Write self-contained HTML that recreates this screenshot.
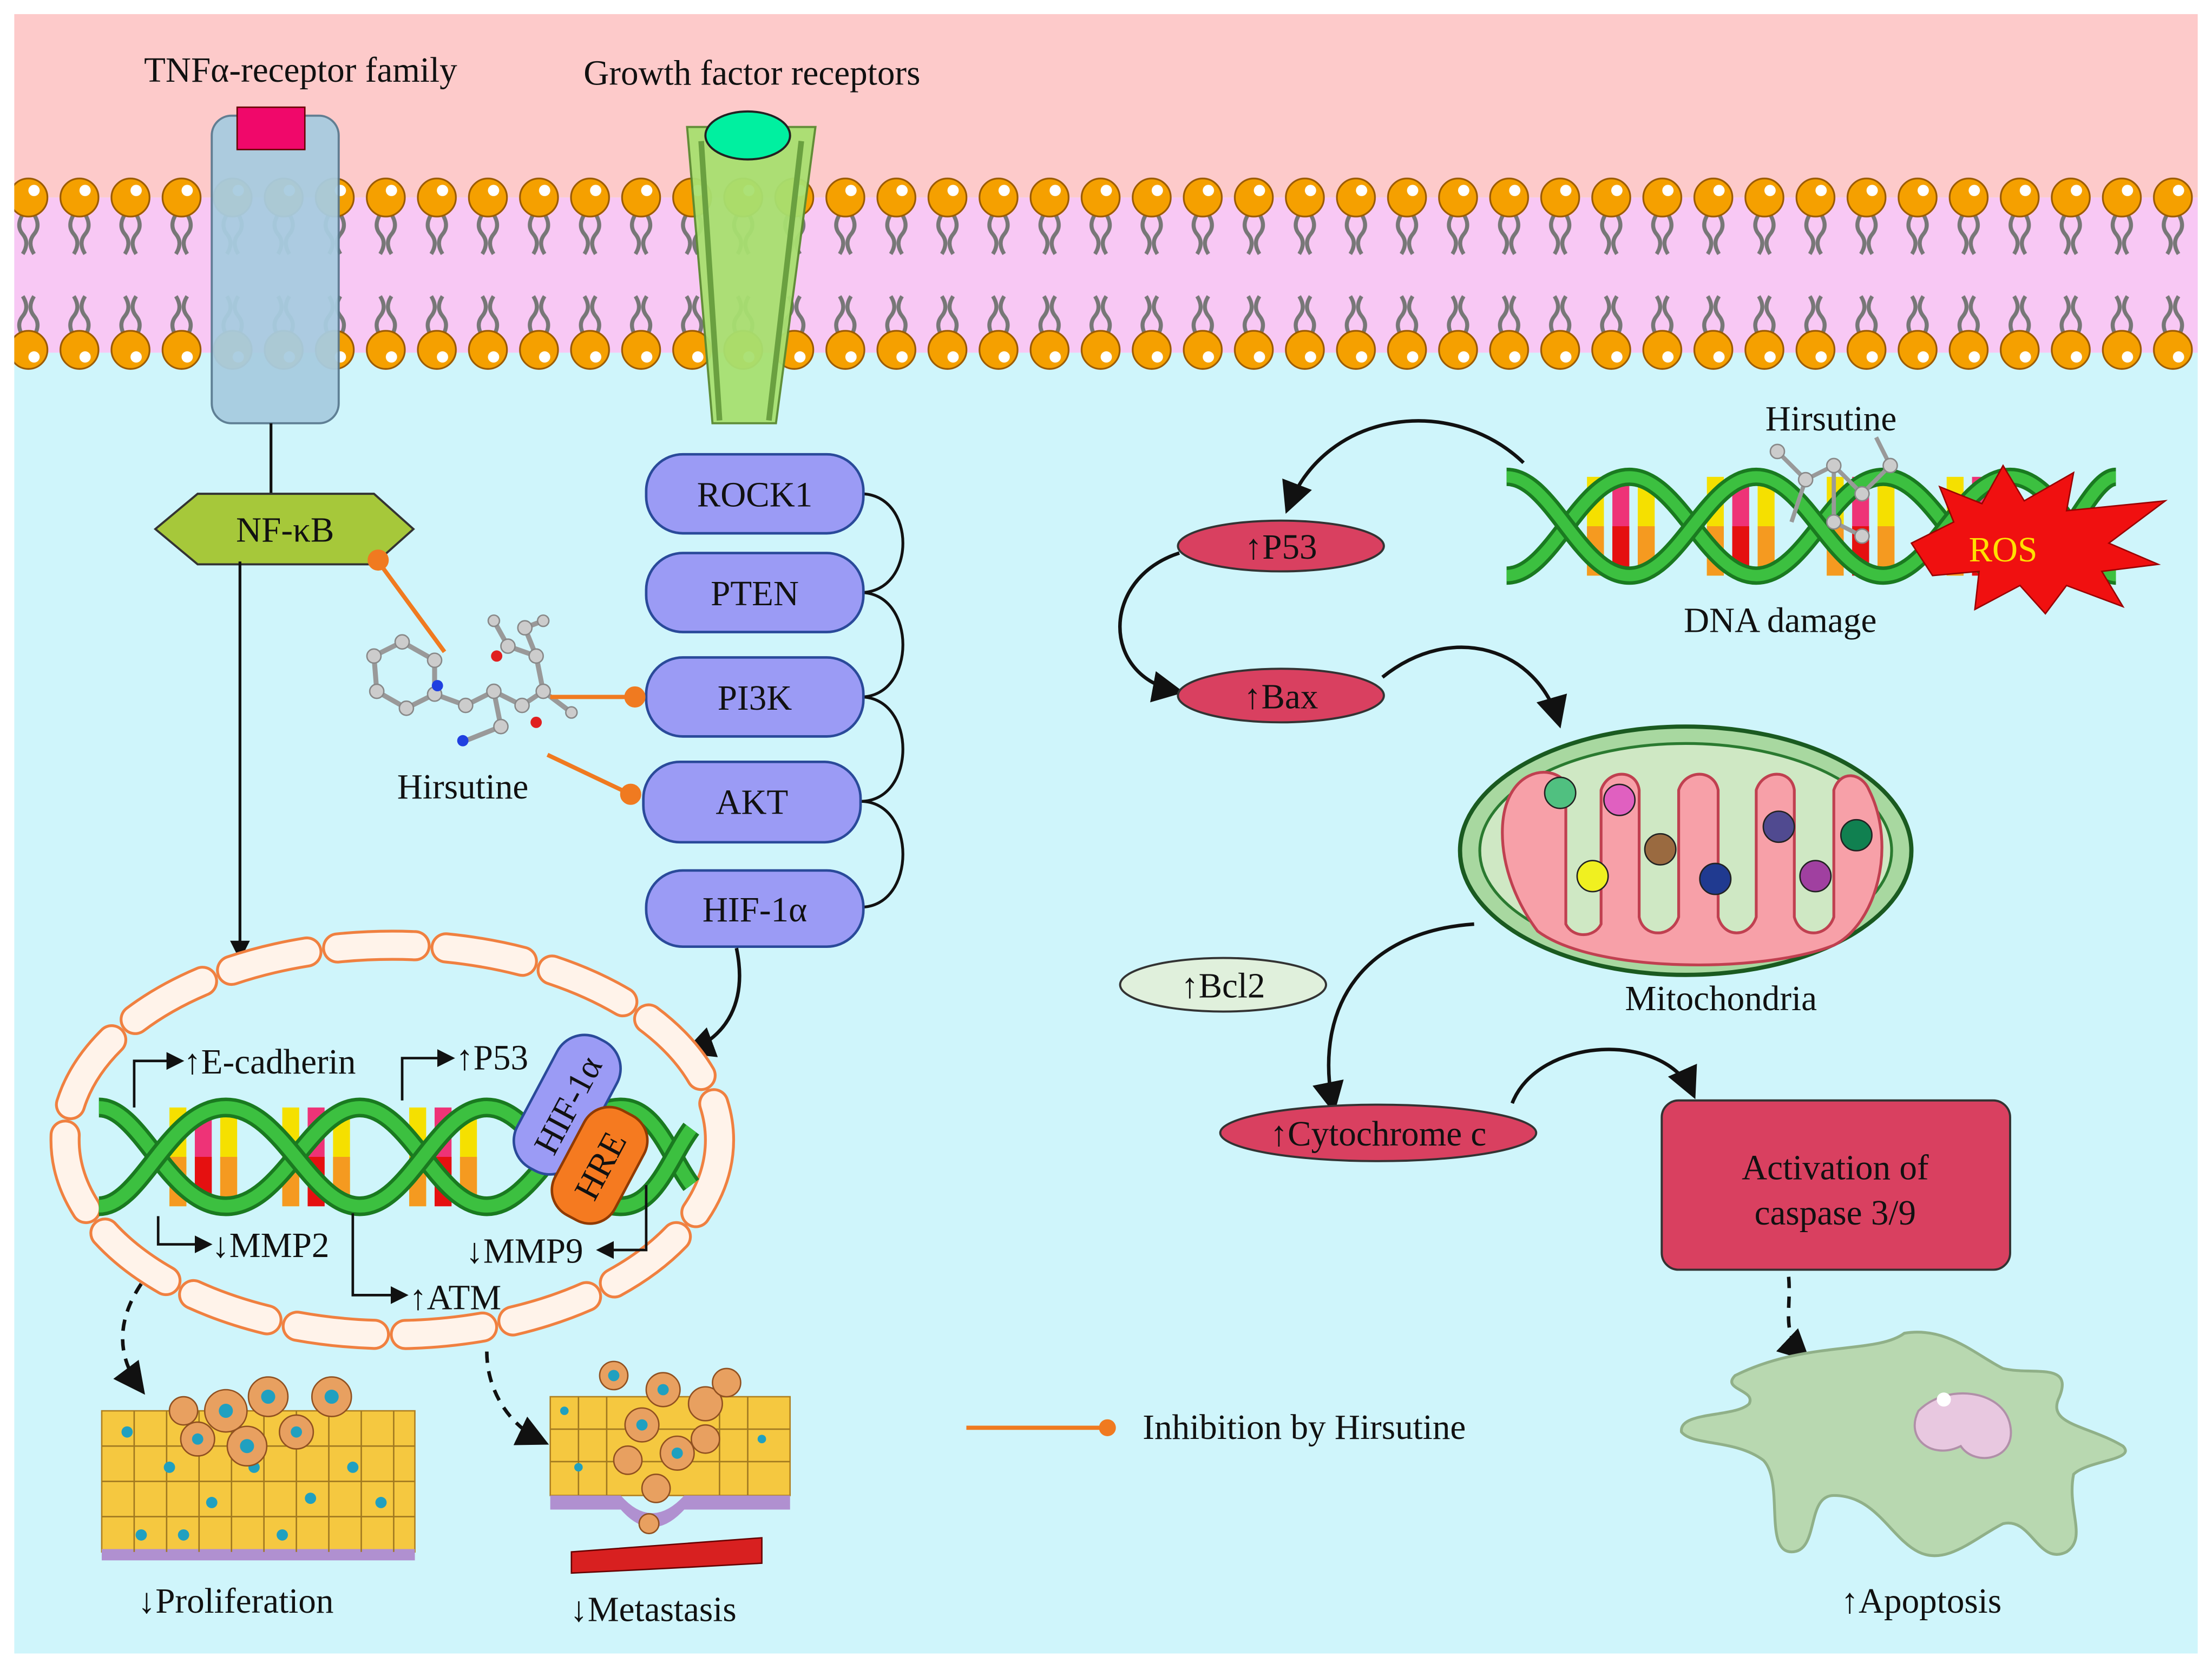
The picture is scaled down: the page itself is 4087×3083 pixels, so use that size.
<!DOCTYPE html>
<html><head><meta charset="utf-8"><style>
html,body{margin:0;padding:0;background:#fff}
svg{display:block}
text{font-family:"Liberation Serif",serif;fill:#111}
</style></head><body>
<svg width="4087" height="3083" viewBox="0 0 1568 1183" xmlns="http://www.w3.org/2000/svg">
<defs>
<pattern id="mem" patternUnits="userSpaceOnUse" x="2" y="125" width="36.2" height="140">
 <path d="M14 27 q-5 8 0 14 q5 6 0 14 M22 27 q5 8 0 14 q-5 6 0 14" stroke="#777" stroke-width="2.8" fill="none"/>
 <path d="M14 113 q-5 -8 0 -14 q5 -6 0 -14 M22 113 q5 -8 0 -14 q-5 -6 0 -14" stroke="#777" stroke-width="2.8" fill="none"/>
 <circle cx="18" cy="15" r="13.5" fill="#f5a000" stroke="#9a5a00" stroke-width="1.2"/>
 <circle cx="22" cy="10" r="4" fill="#fff"/>
 <circle cx="18" cy="123" r="13.5" fill="#f5a000" stroke="#9a5a00" stroke-width="1.2"/>
 <circle cx="22" cy="128" r="4" fill="#fff"/>
</pattern>
<marker id="ar" viewBox="0 0 10 10" refX="8" refY="5" markerWidth="7" markerHeight="7" orient="auto"><path d="M0 0L10 5L0 10z" fill="#111"/></marker>
<marker id="ars" viewBox="0 0 10 10" refX="8" refY="5" markerWidth="9" markerHeight="9" orient="auto"><path d="M0 0L10 5L0 10z" fill="#111"/></marker>
<g id="bars">
 <rect x="0" y="0" width="12" height="70" fill="#f5e000"/><rect x="0" y="35" width="12" height="35" fill="#f59a20"/>
 <rect x="18" y="0" width="12" height="70" fill="#ee3377"/><rect x="18" y="35" width="12" height="35" fill="#e51010"/>
 <rect x="36" y="0" width="12" height="70" fill="#f5e000"/><rect x="36" y="35" width="12" height="35" fill="#f59a20"/>
</g>
</defs>
<rect x="10" y="10" width="1548" height="130" fill="#fdcaca"/>
<rect x="10" y="140" width="1548" height="1032" fill="#cff5fb"/>
<rect x="10" y="140" width="1548" height="110" fill="#f8c8f4"/>
<rect x="10" y="125" width="1548" height="140" fill="url(#mem)"/>

<rect x="150" y="82" width="90" height="218" rx="14" fill="#a8cce0" stroke="#5a7a90" stroke-width="1.5" opacity="0.95"/>
<rect x="168" y="76" width="48" height="30" fill="#f0086a" stroke="#600" stroke-width="1"/>
<path d="M487 90 L578 90 L550 300 L505 300 Z" fill="#a8e070" stroke="#5a8a30" stroke-width="1.5" opacity="0.95"/>
<path d="M497 100 L510 298 M568 100 L545 298" stroke="#6aa040" stroke-width="4"/>
<ellipse cx="530" cy="96" rx="30" ry="17" fill="#00f0a0" stroke="#222" stroke-width="1.5"/>
<text x="213" y="58" font-size="25" text-anchor="middle">TNFα-receptor family</text>
<text x="533" y="60" font-size="25" text-anchor="middle">Growth factor receptors</text>

<line x1="192" y1="300" x2="192" y2="352" stroke="#111" stroke-width="2"/>
<path d="M110 375 L140 350 L265 350 L293 375 L265 400 L140 400 Z" fill="#a6c83a" stroke="#333" stroke-width="1.5"/>
<text x="202" y="384" font-size="25" text-anchor="middle">NF-κB</text>
<line x1="170" y1="398" x2="170" y2="678" stroke="#111" stroke-width="2" marker-end="url(#ar)"/>

<g stroke="#111" stroke-width="2" fill="none">
<path d="M610 350 C650 350 650 420 610 420"/>
<path d="M610 420 C650 420 650 494 610 494"/>
<path d="M610 494 C650 494 650 568 610 568"/>
<path d="M610 568 C650 568 650 643 610 643"/>
</g>
<g fill="#9b9bf5" stroke="#2a4a9a" stroke-width="1.8">
<rect x="458" y="322" width="154" height="56" rx="26"/>
<rect x="458" y="392" width="154" height="56" rx="26"/>
<rect x="458" y="466" width="154" height="56" rx="26"/>
<rect x="456" y="540" width="154" height="57" rx="26"/>
<rect x="458" y="617" width="154" height="54" rx="26"/>
</g>
<g font-size="25" text-anchor="middle">
<text x="535" y="359">ROCK1</text><text x="535" y="429">PTEN</text><text x="535" y="503">PI3K</text><text x="533" y="577">AKT</text><text x="535" y="653">HIF-1α</text>
</g>
<path d="M522 672 C530 710 515 735 488 745" stroke="#111" stroke-width="2.5" fill="none" marker-end="url(#ars)"/>

<g stroke="#999" stroke-width="3.5" fill="none">
<path d="M265 465 L285 455 L308 468 L308 492 L288 502 L267 490 Z M308 492 L330 500 L350 490 L370 500 L385 490 L380 465 L360 458 M350 490 L355 515 L330 525 M380 465 L372 445 L385 440 M385 490 L405 505 M360 458 L350 440"/>
</g>
<g fill="#ccc" stroke="#888">
<circle cx="265" cy="465" r="5"/><circle cx="285" cy="455" r="5"/><circle cx="308" cy="468" r="5"/><circle cx="308" cy="492" r="5"/><circle cx="288" cy="502" r="5"/><circle cx="267" cy="490" r="5"/><circle cx="330" cy="500" r="5"/><circle cx="350" cy="490" r="5"/><circle cx="370" cy="500" r="5"/><circle cx="385" cy="490" r="5"/><circle cx="380" cy="465" r="5"/><circle cx="360" cy="458" r="5"/><circle cx="372" cy="445" r="5"/><circle cx="355" cy="515" r="5"/><circle cx="350" cy="440" r="4"/><circle cx="385" cy="440" r="4"/><circle cx="405" cy="505" r="4"/>
</g>
<circle cx="310" cy="486" r="4" fill="#2040e0"/><circle cx="328" cy="525" r="4" fill="#2040e0"/>
<circle cx="352" cy="465" r="4" fill="#e02020"/><circle cx="380" cy="512" r="4" fill="#e02020"/>
<text x="328" y="566" font-size="25" text-anchor="middle">Hirsutine</text>
<g stroke="#f07a20" stroke-width="3" fill="#f07a20">
<line x1="315" y1="462" x2="268" y2="398"/><circle cx="268" cy="397" r="6"/>
<line x1="390" y1="494" x2="450" y2="494"/><circle cx="450" cy="494" r="6"/>
<line x1="388" y1="535" x2="447" y2="563"/><circle cx="447" cy="563" r="6"/>
</g>

<ellipse cx="278" cy="808" rx="232" ry="138" fill="none" stroke="#f08040" stroke-width="22" stroke-dasharray="55 22" stroke-linecap="round"/>
<ellipse cx="278" cy="808" rx="232" ry="138" fill="none" stroke="#fff3ea" stroke-width="18" stroke-dasharray="55 22" stroke-linecap="round"/>

<g>
<use href="#bars" x="120" y="785"/><use href="#bars" x="200" y="785"/><use href="#bars" x="290" y="785"/>
<path d="M70 785 C100 785 120 855 160 855 C200 855 220 785 255 785 C290 785 310 855 345 855 C380 855 400 785 440 785 C465 785 475 820 490 840" stroke="#1a7a20" stroke-width="14" fill="none"/>
<path d="M70 785 C100 785 120 855 160 855 C200 855 220 785 255 785 C290 785 310 855 345 855 C380 855 400 785 440 785 C465 785 475 820 490 840" stroke="#3cc040" stroke-width="9" fill="none"/>
<path d="M70 855 C100 855 120 785 160 785 C200 785 220 855 255 855 C290 855 310 785 345 785 C380 785 400 855 440 855 C465 855 475 820 490 800" stroke="#1a7a20" stroke-width="14" fill="none"/>
<path d="M70 855 C100 855 120 785 160 785 C200 785 220 855 255 855 C290 855 310 785 345 785 C380 785 400 855 440 855 C465 855 475 820 490 800" stroke="#3cc040" stroke-width="9" fill="none"/>
</g>
<g stroke="#111" stroke-width="1.8" fill="none">
<path d="M95 785 L95 752 L128 752" marker-end="url(#ar)"/>
<path d="M285 780 L285 750 L320 750" marker-end="url(#ar)"/>
<path d="M112 862 L112 882 L148 882" marker-end="url(#ar)"/>
<path d="M250 860 L250 918 L287 918" marker-end="url(#ar)"/>
<path d="M458 840 L458 886 L425 886" marker-end="url(#ar)"/>
</g>
<g font-size="25">
<text x="130" y="761">↑E-cadherin</text><text x="323" y="758">↑P53</text>
<text x="150" y="891">↓MMP2</text><text x="330" y="895">↓MMP9</text><text x="290" y="928">↑ATM</text>
</g>
<g transform="translate(402 783) rotate(-62)"><rect x="-52" y="-24" width="104" height="48" rx="22" fill="#9b9bf5" stroke="#2a4a9a" stroke-width="1.8"/><text x="0" y="9" font-size="25" text-anchor="middle">HIF-1α</text></g>
<g transform="translate(425 826) rotate(-62)"><rect x="-42" y="-24" width="84" height="48" rx="20" fill="#f57a20" stroke="#903a00" stroke-width="1.8"/><text x="0" y="9" font-size="25" text-anchor="middle">HRE</text></g>

<path d="M100 910 C80 940 85 965 100 985" stroke="#111" stroke-width="2.5" stroke-dasharray="8 6" fill="none" marker-end="url(#ars)"/>
<path d="M345 958 C345 985 360 1010 385 1022" stroke="#111" stroke-width="2.5" stroke-dasharray="8 6" fill="none" marker-end="url(#ars)"/>

<g>
<rect x="72" y="1000" width="222" height="100" fill="#f5c840" stroke="#b08020"/>
<rect x="72" y="1098" width="222" height="8" fill="#b090d0"/>
<g stroke="#a07820" stroke-width="1">
<path d="M72 1025H294M72 1050H294M72 1075H294M95 1000V1100M118 1000V1100M141 1000V1100M164 1000V1100M187 1000V1100M210 1000V1100M233 1000V1100M256 1000V1100M279 1000V1100"/>
</g>
<g fill="#20a0c0"><circle cx="90" cy="1015" r="4"/><circle cx="120" cy="1040" r="4"/><circle cx="150" cy="1065" r="4"/><circle cx="200" cy="1088" r="4"/><circle cx="250" cy="1040" r="4"/><circle cx="270" cy="1065" r="4"/><circle cx="100" cy="1088" r="4"/><circle cx="220" cy="1062" r="4"/><circle cx="130" cy="1088" r="4"/><circle cx="180" cy="1040" r="4"/></g>
<g fill="#e8a060" stroke="#905020"><circle cx="160" cy="1000" r="15"/><circle cx="190" cy="990" r="14"/><circle cx="235" cy="990" r="14"/><circle cx="175" cy="1025" r="14"/><circle cx="140" cy="1020" r="12"/><circle cx="210" cy="1015" r="12"/><circle cx="130" cy="1000" r="10"/></g>
<g fill="#20a0c0"><circle cx="160" cy="1000" r="5"/><circle cx="190" cy="990" r="5"/><circle cx="235" cy="990" r="5"/><circle cx="175" cy="1025" r="5"/><circle cx="140" cy="1020" r="4"/><circle cx="210" cy="1015" r="4"/></g>
</g>
<g>
<rect x="390" y="990" width="170" height="70" fill="#f5c840" stroke="#b08020"/>
<g stroke="#a07820" stroke-width="1"><path d="M390 1013H560M390 1036H560M410 990V1060M430 990V1060M510 990V1060M530 990V1060"/></g>
<path d="M390 1060 L440 1060 Q462 1085 485 1060 L560 1060 L560 1070 L485 1070 Q462 1095 440 1070 L390 1070Z" fill="#b090d0"/>
<path d="M405 1100 Q470 1095 540 1090 L540 1108 Q470 1112 405 1115 Z" fill="#d82020" stroke="#600"/>
<g fill="#e8a060" stroke="#905020"><circle cx="435" cy="975" r="10"/><circle cx="470" cy="985" r="12"/><circle cx="500" cy="995" r="12"/><circle cx="455" cy="1010" r="12"/><circle cx="480" cy="1030" r="12"/><circle cx="465" cy="1055" r="10"/><circle cx="515" cy="980" r="10"/><circle cx="460" cy="1080" r="7"/><circle cx="445" cy="1035" r="10"/><circle cx="500" cy="1020" r="10"/></g>
<g fill="#20a0c0"><circle cx="435" cy="975" r="4"/><circle cx="470" cy="985" r="4"/><circle cx="455" cy="1010" r="4"/><circle cx="480" cy="1030" r="4"/><circle cx="410" cy="1040" r="3"/><circle cx="540" cy="1020" r="3"/><circle cx="400" cy="1000" r="3"/></g>
</g>
<text x="167" y="1143" font-size="25" text-anchor="middle">↓Proliferation</text>
<text x="463" y="1149" font-size="25" text-anchor="middle">↓Metastasis</text>

<line x1="685" y1="1012" x2="785" y2="1012" stroke="#f07a20" stroke-width="3"/>
<circle cx="785" cy="1012" r="6" fill="#f07a20"/>
<text x="810" y="1020" font-size="25">Inhibition by Hirsutine</text>

<g>
<use href="#bars" x="1125" y="338"/><use href="#bars" x="1210" y="338"/><use href="#bars" x="1295" y="338"/><use href="#bars" x="1380" y="338"/>
<path d="M1068 408 C1100 408 1120 338 1155 338 C1190 338 1210 408 1245 408 C1280 408 1300 338 1335 338 C1370 338 1390 408 1425 408 C1460 408 1480 338 1500 338" stroke="#1a7a20" stroke-width="13" fill="none"/>
<path d="M1068 408 C1100 408 1120 338 1155 338 C1190 338 1210 408 1245 408 C1280 408 1300 338 1335 338 C1370 338 1390 408 1425 408 C1460 408 1480 338 1500 338" stroke="#3cc040" stroke-width="8" fill="none"/>
<path d="M1068 338 C1100 338 1120 408 1155 408 C1190 408 1210 338 1245 338 C1280 338 1300 408 1335 408 C1370 408 1390 338 1425 338 C1460 338 1480 408 1500 408" stroke="#1a7a20" stroke-width="13" fill="none"/>
<path d="M1068 338 C1100 338 1120 408 1155 408 C1190 408 1210 338 1245 338 C1280 338 1300 408 1335 408 C1370 408 1390 338 1425 338 C1460 338 1480 408 1500 408" stroke="#3cc040" stroke-width="8" fill="none"/>
</g>
<g stroke="#999" stroke-width="3" fill="none"><path d="M1260 320 L1280 340 L1300 330 L1320 350 L1340 330 L1330 310 M1300 330 L1300 370 L1320 380 M1280 340 L1270 370"/></g>
<g fill="#ccc" stroke="#888"><circle cx="1260" cy="320" r="5"/><circle cx="1280" cy="340" r="5"/><circle cx="1300" cy="330" r="5"/><circle cx="1320" cy="350" r="5"/><circle cx="1340" cy="330" r="5"/><circle cx="1300" cy="370" r="5"/><circle cx="1320" cy="380" r="5"/></g>
<path d="M1355 385 L1385 370 L1375 345 L1405 357 L1420 330 L1435 355 L1470 335 L1465 362 L1535 355 L1495 385 L1530 400 L1490 405 L1505 430 L1465 415 L1450 435 L1432 415 L1400 432 L1403 405 L1370 408 Z" fill="#f01010" stroke="#900" stroke-width="1"/>
<text x="1420" y="398" font-size="25" text-anchor="middle" style="fill:#ffe000">ROS</text>
<text x="1298" y="305" font-size="25" text-anchor="middle">Hirsutine</text>
<text x="1262" y="448" font-size="25" text-anchor="middle">DNA damage</text>

<path d="M1080 328 C1030 280 940 290 913 360" stroke="#111" stroke-width="2.5" fill="none" marker-end="url(#ars)"/>
<ellipse cx="908" cy="387" rx="73" ry="18" fill="#d94060" stroke="#333" stroke-width="1.5"/>
<text x="908" y="396" font-size="25" text-anchor="middle">↑P53</text>
<path d="M836 392 C780 410 780 480 835 490" stroke="#111" stroke-width="2.5" fill="none" marker-end="url(#ars)"/>
<ellipse cx="908" cy="493" rx="73" ry="19" fill="#d94060" stroke="#333" stroke-width="1.5"/>
<text x="908" y="502" font-size="25" text-anchor="middle">↑Bax</text>
<path d="M980 480 C1030 440 1090 460 1105 512" stroke="#111" stroke-width="2.5" fill="none" marker-end="url(#ars)"/>

<ellipse cx="1195" cy="603" rx="160" ry="88" fill="#a8d8a0" stroke="#1a5a20" stroke-width="3"/>
<ellipse cx="1195" cy="603" rx="146" ry="76" fill="#cfe8c4" stroke="#2a7a30" stroke-width="2"/>
<path d="M1065 590 C1065 545 1100 540 1110 555 L1110 655 C1115 665 1130 665 1135 655 L1135 560 C1140 545 1160 545 1162 560 L1162 650 C1165 665 1185 665 1190 650 L1190 560 C1195 545 1215 545 1218 560 L1218 650 C1222 665 1240 665 1245 650 L1245 560 C1250 545 1270 545 1272 560 L1272 650 C1276 665 1295 665 1300 650 L1300 560 C1305 545 1320 548 1325 560 C1345 600 1330 655 1300 670 C1250 690 1130 690 1090 660 C1075 640 1065 615 1065 590Z" fill="#f7a0a8" stroke="#c04050" stroke-width="2"/>
<g stroke="#222" stroke-width="1">
<circle cx="1106" cy="562" r="11" fill="#50c080"/><circle cx="1148" cy="567" r="11" fill="#e060c0"/><circle cx="1129" cy="621" r="11" fill="#f0f020"/><circle cx="1177" cy="602" r="11" fill="#9a6a40"/><circle cx="1216" cy="623" r="11" fill="#203a90"/><circle cx="1261" cy="586" r="11" fill="#504a90"/><circle cx="1287" cy="621" r="11" fill="#a040a0"/><circle cx="1316" cy="592" r="11" fill="#108050"/>
</g>
<text x="1220" y="716" font-size="25" text-anchor="middle">Mitochondria</text>

<ellipse cx="867" cy="698" rx="73" ry="19" fill="#e0f0dc" stroke="#333" stroke-width="1.5"/>
<text x="867" y="707" font-size="25" text-anchor="middle">↑Bcl2</text>

<path d="M1045 655 C970 660 930 710 945 785" stroke="#111" stroke-width="2.5" fill="none" marker-end="url(#ars)"/>
<ellipse cx="977" cy="803" rx="112" ry="20" fill="#d94060" stroke="#333" stroke-width="1.5"/>
<text x="977" y="812" font-size="25" text-anchor="middle">↑Cytochrome c</text>
<path d="M1072 782 C1090 735 1180 730 1200 775" stroke="#111" stroke-width="2.5" fill="none" marker-end="url(#ars)"/>
<rect x="1178" y="780" width="247" height="120" rx="12" fill="#d94060" stroke="#333" stroke-width="1.5"/>
<text x="1301" y="836" font-size="25" text-anchor="middle">Activation of</text>
<text x="1301" y="868" font-size="25" text-anchor="middle">caspase 3/9</text>
<path d="M1268 905 C1270 930 1262 945 1280 962" stroke="#111" stroke-width="2.5" stroke-dasharray="8 6" fill="none" marker-end="url(#ars)"/>

<path d="M1230 975 C1280 950 1330 960 1350 945 C1380 940 1400 960 1420 970 C1440 975 1470 965 1460 990 C1450 1010 1480 1010 1505 1025 C1515 1035 1480 1035 1470 1045 C1465 1070 1480 1090 1465 1100 C1445 1110 1440 1075 1420 1080 C1400 1090 1380 1110 1360 1100 C1340 1090 1330 1060 1300 1060 C1280 1060 1290 1100 1270 1100 C1250 1100 1265 1050 1250 1035 C1230 1020 1200 1025 1192 1015 C1190 1000 1230 1005 1240 995 C1245 985 1220 985 1230 975Z" fill="#b8d8b0" stroke="#90b088" stroke-width="2"/>
<path d="M1360 1000 C1380 980 1420 985 1425 1010 C1430 1035 1400 1040 1390 1025 C1370 1035 1350 1020 1360 1000Z" fill="#e8c8e0" stroke="#b090a8" stroke-width="1.5"/>
<circle cx="1378" cy="992" r="5" fill="#fff"/>
<text x="1362" y="1143" font-size="25" text-anchor="middle">↑Apoptosis</text>
</svg>
</body></html>
